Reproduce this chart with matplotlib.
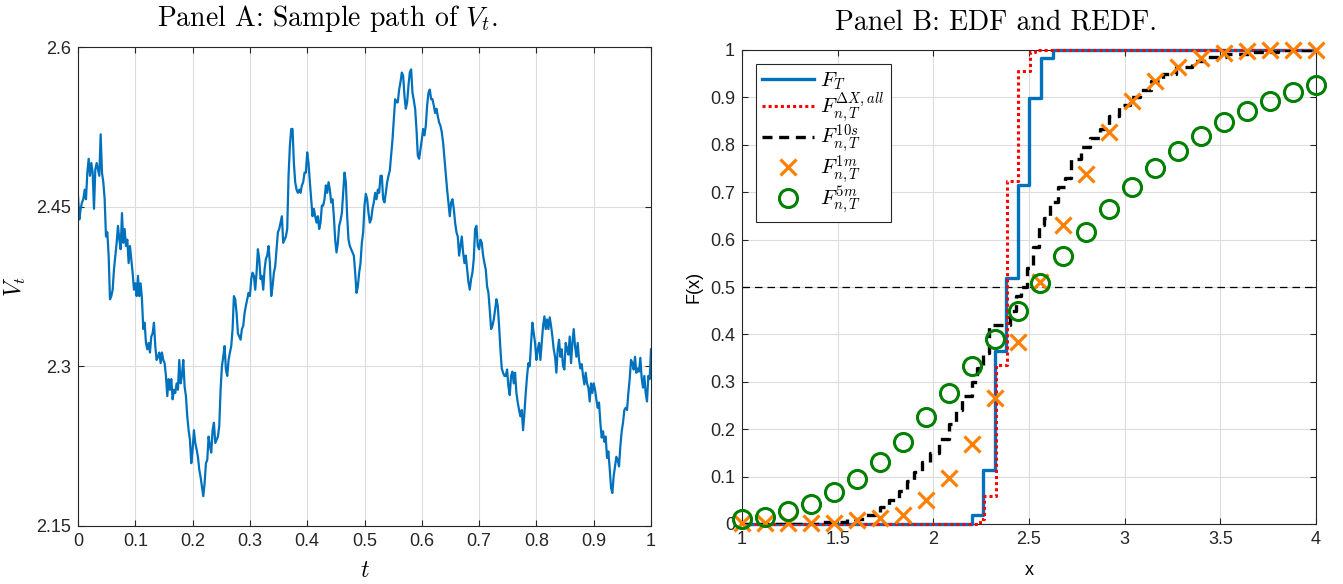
import numpy as np
import matplotlib
matplotlib.use("Agg")
import matplotlib.pyplot as plt

plt.rcParams['mathtext.fontset'] = 'cm'
plt.rcParams['font.family'] = ['Liberation Sans', 'DejaVu Sans']

# ---------------- Panel A: sample path of V_t ----------------
V_path = [
    2.460, 2.438, 2.448, 2.454, 2.457, 2.466, 2.457, 2.482, 2.495, 2.479,
    2.491, 2.482, 2.448, 2.485, 2.491, 2.485, 2.479, 2.518, 2.482, 2.473,
    2.457, 2.422, 2.426, 2.404, 2.363, 2.366, 2.372, 2.391, 2.404, 2.416,
    2.432, 2.419, 2.410, 2.444, 2.416, 2.429, 2.413, 2.419, 2.397, 2.413,
    2.401, 2.388, 2.372, 2.378, 2.366, 2.385, 2.366, 2.378, 2.363, 2.335,
    2.341, 2.322, 2.316, 2.322, 2.313, 2.328, 2.331, 2.341, 2.319, 2.306,
    2.309, 2.313, 2.303, 2.313, 2.306, 2.303, 2.291, 2.272, 2.288, 2.278,
    2.288, 2.269, 2.278, 2.275, 2.284, 2.278, 2.306, 2.284, 2.291, 2.306,
    2.281, 2.272, 2.253, 2.240, 2.231, 2.209, 2.222, 2.240, 2.228, 2.222,
    2.215, 2.203, 2.196, 2.187, 2.178, 2.190, 2.209, 2.212, 2.234, 2.225,
    2.219, 2.240, 2.247, 2.228, 2.231, 2.234, 2.244, 2.278, 2.300,
    2.309, 2.319, 2.297, 2.291, 2.306, 2.313, 2.319, 2.335, 2.366, 2.363, 2.350,
    2.331, 2.328, 2.325, 2.335, 2.338, 2.350, 2.357, 2.363, 2.369, 2.366,
    2.382, 2.388, 2.385, 2.372, 2.388, 2.410, 2.401, 2.382, 2.385, 2.372,
    2.391, 2.401, 2.404, 2.413, 2.397, 2.366, 2.375, 2.388, 2.394, 2.410,
    2.426, 2.429, 2.435, 2.441, 2.416, 2.419, 2.422, 2.429, 2.479, 2.507,
    2.523, 2.523, 2.491, 2.473, 2.466, 2.463, 2.466, 2.463, 2.470, 2.473,
    2.482, 2.482, 2.501, 2.491, 2.473, 2.457, 2.441, 2.448, 2.441, 2.435,
    2.441, 2.429, 2.435, 2.451, 2.451, 2.457, 2.470, 2.463, 2.473, 2.466,
    2.454, 2.457, 2.441, 2.419, 2.407, 2.416, 2.432, 2.437, 2.444, 2.463,
    2.482, 2.473, 2.441, 2.419, 2.413, 2.410, 2.407, 2.404, 2.388, 2.369,
    2.375, 2.388, 2.397, 2.416, 2.426,
    2.451, 2.462, 2.457, 2.444, 2.435,
    2.438, 2.448, 2.454, 2.463, 2.457, 2.466, 2.463, 2.479, 2.479, 2.457,
    2.454, 2.463, 2.473, 2.479, 2.484, 2.498, 2.513, 2.532, 2.551, 2.548,
    2.548, 2.560, 2.567, 2.576, 2.573, 2.554, 2.542, 2.548, 2.564, 2.576,
    2.579, 2.557, 2.550, 2.542, 2.523, 2.498, 2.495, 2.504, 2.513, 2.523,
    2.517, 2.526, 2.545, 2.557, 2.560, 2.551, 2.551, 2.545, 2.538, 2.542,
    2.535, 2.529, 2.526, 2.520, 2.510, 2.495, 2.479, 2.466, 2.454, 2.441,
    2.454, 2.457, 2.448, 2.435, 2.426, 2.422, 2.404, 2.413, 2.422, 2.407,
    2.397, 2.404, 2.391, 2.379, 2.372, 2.382, 2.388, 2.401, 2.429, 2.432,
    2.413, 2.410, 2.419, 2.416, 2.404, 2.397, 2.391, 2.375, 2.369, 2.353,
    2.335, 2.338, 2.344, 2.353, 2.363, 2.357, 2.338, 2.316, 2.298, 2.294, 2.291,
    2.291, 2.297, 2.281, 2.273, 2.291, 2.295, 2.284, 2.294, 2.275,
    2.266, 2.259, 2.253, 2.259, 2.240, 2.256, 2.275, 2.291, 2.303, 2.300,
    2.322, 2.341, 2.331, 2.322, 2.306, 2.316, 2.322, 2.306, 2.322, 2.338,
    2.347, 2.335, 2.344, 2.335, 2.346, 2.338, 2.328, 2.316, 2.309, 2.294,
    2.316, 2.325, 2.309, 2.316, 2.300, 2.297, 2.322, 2.316, 2.311, 2.328,
    2.303, 2.322, 2.335, 2.319, 2.309, 2.322, 2.306, 2.298, 2.302, 2.291,
    2.283, 2.294, 2.284, 2.280, 2.267, 2.284, 2.275, 2.284, 2.278, 2.269,
    2.261, 2.266, 2.247, 2.233, 2.239, 2.229, 2.234, 2.214, 2.220, 2.204,
    2.186, 2.181, 2.197, 2.206, 2.215, 2.212, 2.206, 2.225, 2.239, 2.247,
    2.259, 2.261, 2.259, 2.275, 2.288, 2.306, 2.303, 2.297, 2.309, 2.294,
    2.298, 2.295, 2.308, 2.289, 2.280, 2.291, 2.275, 2.267, 2.291, 2.288, 2.316,
]
t_path = np.linspace(0.0, 1.0, len(V_path))

# ---------------- Panel B: EDF and REDF ----------------
FT_x = [1.0, 2.20, 2.26, 2.32, 2.38, 2.44, 2.50, 2.565, 2.625, 4.0]
FT_y = [0.0, 0.02, 0.114, 0.364, 0.52, 0.716, 0.899, 0.983, 1.0, 1.0]

Fall_x = [1.0, 2.245, 2.265, 2.325, 2.385, 2.445, 2.505, 2.53, 4.0]
Fall_y = [0.0, 0.01, 0.06, 0.335, 0.723, 0.955, 0.995, 1.0, 1.0]

F10s_x = [1.00, 1.40, 1.55, 1.65, 1.72, 1.77, 1.82, 1.86, 1.90, 1.94, 1.98,
          2.03, 2.08, 2.12, 2.15, 2.20, 2.23, 2.26, 2.29, 2.40, 2.43, 2.46,
          2.49, 2.52, 2.55, 2.58, 2.61, 2.65, 2.69, 2.72, 2.77, 2.82, 2.87,
          2.92, 2.97, 3.03, 3.08, 3.14, 3.20, 3.27, 3.35, 3.43, 3.53, 3.65,
          3.80, 4.00]
F10s_y = [0.0, 0.004, 0.01, 0.02, 0.035, 0.05, 0.07, 0.09, 0.11, 0.13, 0.15,
          0.18, 0.21, 0.24, 0.27, 0.30, 0.33, 0.36, 0.42, 0.45, 0.48, 0.50,
          0.54, 0.585, 0.63, 0.645, 0.68, 0.71, 0.73, 0.77, 0.795, 0.815, 0.833,
          0.86, 0.885, 0.90, 0.915, 0.935, 0.95, 0.965, 0.976, 0.985, 0.992, 0.996,
          0.999, 1.0]

grid_x = [1.00, 1.12, 1.24, 1.36, 1.48, 1.60, 1.72, 1.84, 1.96, 2.08, 2.20,
          2.32, 2.44, 2.56, 2.68, 2.80, 2.92, 3.04, 3.16, 3.28, 3.40, 3.52,
          3.64, 3.76, 3.88, 4.00]
F1m_y = [0.002, 0.002, 0.002, 0.002, 0.003, 0.008, 0.013, 0.02, 0.05, 0.097,
         0.169, 0.266, 0.385, 0.51, 0.63, 0.739, 0.826, 0.893, 0.934, 0.965,
         0.983, 0.994, 0.997, 0.999, 0.999, 1.0]
F5m_y = [0.01, 0.014, 0.027, 0.042, 0.067, 0.095, 0.13, 0.174, 0.225, 0.276,
         0.333, 0.39, 0.45, 0.508, 0.565, 0.616, 0.665, 0.711, 0.752, 0.787,
         0.819, 0.849, 0.872, 0.893, 0.911, 0.926]

blue = '#0072BD'
orange = '#FF8000'
green = '#008000'
gridc = '#DCDCDC'
axc = '#262626'

fig = plt.figure(figsize=(13.43, 5.84), dpi=100)
axA = fig.add_axes([78/1343, 1-526/584, (651-78)/1343, (526-47)/584])
axB = fig.add_axes([742/1343, 1-524/584, (1316-742)/1343, (524-50)/584])


def style(ax):
    ax.grid(True, color=gridc, linewidth=0.8)
    ax.set_axisbelow(True)
    for s in ax.spines.values():
        s.set_color(axc)
        s.set_linewidth(0.8)
    ax.tick_params(direction='in', length=4, width=0.8, color=axc,
                   labelsize=13, labelcolor='#262626',
                   top=True, right=True, pad=5)


# Panel A
axA.plot(t_path, V_path, color=blue, linewidth=1.6)
axA.set_xlim(0, 1)
axA.set_ylim(2.15, 2.6)
axA.set_xticks(np.arange(0, 1.01, 0.1))
axA.set_xticklabels(['0', '0.1', '0.2', '0.3', '0.4', '0.5', '0.6', '0.7', '0.8', '0.9', '1'])
axA.set_yticks([2.15, 2.3, 2.45, 2.6])
axA.set_yticklabels(['2.15', '2.3', '2.45', '2.6'])
style(axA)
axA.set_title('Panel A: Sample path of $V_t$.', fontsize=20, family='cmr10', pad=15, x=0.435)
axA.set_xlabel(r'$t$', fontsize=17, labelpad=7)
axA.set_ylabel(r'$V_t$', fontsize=17, labelpad=6)

# Panel B
axB.axhline(0.5, color='black', linewidth=0.9, linestyle=(0, (6, 4)))
axB.step(FT_x, FT_y, where='post', color=blue, linewidth=2.4, label=r'$F_T$', clip_on=False, zorder=3)
axB.step(Fall_x, Fall_y, where='post', color='#FF0000', linewidth=2.2,
         linestyle=(0, (1, 1)), label=r'$F_{n,T}^{\Delta X,all}$', clip_on=False, zorder=4)
axB.step(F10s_x, F10s_y, where='post', color='black', linewidth=2.4,
         linestyle=(0, (3, 2)), label=r'$F_{n,T}^{10s}$', zorder=5)
axB.plot(grid_x, F1m_y, linestyle='none', marker='x', markersize=11, markeredgewidth=2.3,
         color=orange, label=r'$F_{n,T}^{1m}$', clip_on=False, zorder=6)
axB.plot(grid_x, F5m_y, linestyle='none', marker='o', markersize=13, markeredgewidth=2.2,
         markerfacecolor='none', color=green, label=r'$F_{n,T}^{5m}$', clip_on=False, zorder=6)
axB.set_xlim(1, 4)
axB.set_ylim(0, 1)
axB.set_xticks([1, 1.5, 2, 2.5, 3, 3.5, 4])
axB.set_xticklabels(['1', '1.5', '2', '2.5', '3', '3.5', '4'])
axB.set_yticks(np.arange(0, 1.01, 0.1))
axB.set_yticklabels(['0', '0.1', '0.2', '0.3', '0.4', '0.5', '0.6', '0.7', '0.8', '0.9', '1'])
style(axB)
axB.set_title('Panel B: EDF and REDF.', fontsize=20, family='cmr10', pad=15, x=0.443)
axB.set_xlabel('x', fontsize=13, labelpad=10)
axB.set_ylabel('F(x)', fontsize=13, labelpad=5)
leg = axB.legend(loc='upper left', bbox_to_anchor=(0.024, 0.97), fontsize=15,
                 frameon=True, fancybox=False, edgecolor=axc, framealpha=1,
                 handlelength=2.5, labelspacing=-0.1, borderpad=0.3,
                 handletextpad=0.3, borderaxespad=0.0)
leg.get_frame().set_linewidth(0.8)

fig.savefig('out.png', dpi=100)
